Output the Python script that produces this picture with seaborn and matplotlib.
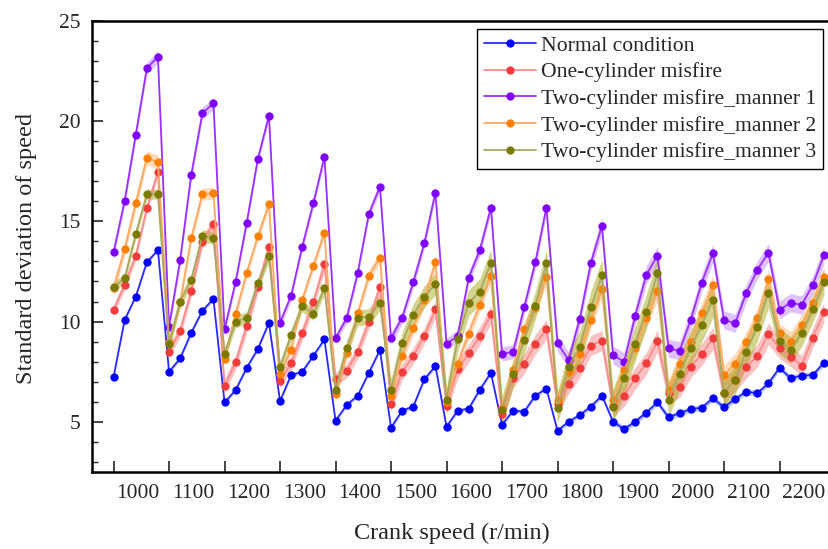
import numpy as np
import pandas as pd
import matplotlib
matplotlib.use("Agg")
import matplotlib.pyplot as plt
from matplotlib.ticker import MultipleLocator
import seaborn as sns

# crank speeds (one group of 5 samples per speed)
speeds = [1000, 1100, 1200, 1300, 1400, 1500, 1600, 1700, 1800, 1900, 2000, 2100, 2200]

normal = [7.22, 10.08, 11.24, 12.96, 13.57,
          7.49, 8.16, 9.44, 10.54, 11.13,
          5.96, 6.58, 7.69, 8.63, 9.94,
          6.03, 7.33, 7.49, 8.29, 9.11,
          5.05, 5.83, 6.3, 7.44, 8.58,
          4.7, 5.55, 5.75, 7.11, 7.78,
          4.75, 5.55, 5.65, 6.6, 7.44,
          4.85, 5.55, 5.5, 6.3, 6.65,
          4.55, 5.0, 5.33, 5.75, 6.3,
          5.0, 4.63, 5.0, 5.45, 5.97,
          5.22, 5.42, 5.62, 5.7, 6.17,
          5.72, 6.13, 6.5, 6.42, 6.92,
          7.69, 7.17, 7.3, 7.33, 7.94]

one_cyl = [10.58, 11.83, 13.29, 15.66, 17.48,
           8.5, 9.53, 11.54, 13.99, 14.86,
           6.78, 7.96, 9.79, 11.74, 13.74,
           7.05, 7.91, 9.41, 10.96, 12.86,
           7.11, 7.53, 8.49, 9.99, 11.74,
           5.9, 7.49, 8.28, 9.28, 10.61,
           5.8, 7.61, 8.41, 9.28, 10.36,
           5.4, 7.2, 7.9, 8.86, 9.61,
           5.9, 6.9, 7.7, 8.8, 9.05,
           5.8, 6.3, 7.17, 7.91, 9.03,
           6.45, 6.75, 7.75, 8.36, 9.16,
           6.42, 7.08, 7.71, 8.29, 9.38,
           8.66, 8.25, 7.8, 9.2, 10.46]

two_m1 = [13.46, 16.02, 19.32, 22.65, 23.23,
          9.75, 13.07, 17.32, 20.4, 20.9,
          9.61, 11.99, 14.94, 18.12, 20.28,
          9.94, 11.29, 13.74, 15.91, 18.23,
          9.16, 10.16, 12.44, 15.37, 16.74,
          9.16, 10.19, 11.96, 13.91, 16.44,
          8.88, 9.28, 12.19, 13.57, 15.69,
          8.38, 8.49, 10.71, 12.96, 15.69,
          8.91, 8.08, 10.13, 12.91, 14.79,
          8.33, 7.99, 10.29, 12.33, 13.29,
          8.66, 8.54, 10.08, 11.94, 13.41,
          10.08, 9.91, 11.41, 12.58, 13.44,
          10.58, 10.94, 10.83, 11.83, 13.32]

two_m2 = [11.66, 13.62, 15.91, 18.18, 17.95,
          9.0, 10.99, 14.16, 16.36, 16.41,
          8.15, 10.4, 12.44, 14.26, 15.86,
          7.4, 8.6, 11.08, 12.79, 14.44,
          6.38, 8.41, 10.41, 12.28, 13.19,
          6.3, 8.28, 9.66, 11.08, 12.99,
          6.0, 7.9, 9.4, 10.83, 12.28,
          5.7, 7.6, 9.61, 10.69, 12.24,
          6.1, 7.5, 8.4, 10.08, 11.6,
          6.1, 7.6, 8.7, 10.2, 11.5,
          6.6, 7.9, 9.0, 10.41, 11.83,
          7.33, 7.9, 8.99, 10.16, 12.1,
          9.41, 9.0, 9.83, 10.91, 12.21]

two_m3 = [11.71, 12.16, 14.37, 16.36, 16.36,
          8.86, 10.99, 12.08, 14.29, 14.16,
          8.4, 9.99, 10.19, 11.91, 13.27,
          7.71, 9.33, 10.79, 10.36, 11.66,
          6.58, 8.66, 10.19, 10.24, 10.94,
          6.6, 8.91, 10.33, 11.24, 11.88,
          6.1, 9.11, 10.94, 11.49, 12.94,
          5.6, 7.4, 9.1, 10.8, 12.9,
          5.7, 7.75, 8.74, 10.71, 12.3,
          5.75, 7.2, 8.9, 10.5, 12.4,
          6.08, 7.4, 8.7, 9.83, 11.08,
          6.42, 7.1, 8.5, 9.74, 11.44,
          9.04, 8.58, 9.41, 10.61, 11.96]

# half width of the shaded band, one value per speed group
band_normal = [0.08, 0.1, 0.1, 0.1, 0.1, 0.1, 0.1, 0.1, 0.12, 0.15, 0.15, 0.15, 0.15]
band_one = [0.25, 0.3, 0.35, 0.35, 0.35, 0.4, 0.45, 0.5, 0.5, 0.55, 0.55, 0.55, 0.5]
band_m1 = [0.3, 0.3, 0.25, 0.25, 0.25, 0.3, 0.3, 0.35, 0.4, 0.45, 0.45, 0.45, 0.45]
band_m2 = [0.35, 0.3, 0.25, 0.25, 0.3, 0.35, 0.35, 0.4, 0.45, 0.5, 0.5, 0.5, 0.5]
band_m3 = [0.25, 0.3, 0.3, 0.3, 0.4, 0.55, 0.65, 0.7, 0.8, 0.85, 0.85, 0.75, 0.65]

labels = ["Normal condition", "One-cylinder misfire", "Two-cylinder misfire_manner 1",
          "Two-cylinder misfire_manner 2", "Two-cylinder misfire_manner 3"]

# (values, band, line colour, marker colour, band colour, band alpha)
series = [
    (normal, band_normal, "#2a2aff", "#0000ff", "#4060ff", 0.35),
    (one_cyl, band_one, "#ff8a8a", "#f03c3c", "#f05050", 0.35),
    (two_m1, band_m1, "#9a30ff", "#8000ff", "#a050ff", 0.35),
    (two_m2, band_m2, "#ffa860", "#ff8000", "#ff9a40", 0.35),
    (two_m3, band_m3, "#a8a860", "#7a7a00", "#a0a000", 0.45),
]

sns.set_style("ticks")
plt.rcParams["font.family"] = ["Liberation Serif", "DejaVu Serif"]

fig = plt.figure(figsize=(8.29, 5.49), dpi=100)
ax = fig.add_axes([92 / 829, 1 - 471.7 / 549, 743 / 829, (471.7 - 21.2) / 549])

x = np.arange(len(normal))
for name, (vals, band, lc, mc, bc, ba) in zip(labels, series):
    vals = np.array(vals)
    w = np.repeat(band, 5)
    ax.fill_between(x, vals - w, vals + w, color=bc, alpha=ba, lw=0)
    df = pd.DataFrame({"idx": x, "val": vals})
    sns.lineplot(data=df, x="idx", y="val", ax=ax, color=lc, marker="o",
                 markersize=5.2, markerfacecolor=mc, markeredgecolor=mc,
                 linewidth=1.3, label=name)

ax.set_xlim(-1.94, 65.0)
ax.set_ylim(2.5, 25)
ax.set_xticks(np.arange(0, 65, 5))
ax.set_xticklabels([])
ax.set_xticks(np.arange(13) * 5 + 2.2, minor=True)
ax.set_xticklabels([str(s) for s in speeds], minor=True, fontsize=15.5)
ax.tick_params(axis="x", which="minor", length=0, pad=9)
ax.tick_params(axis="x", which="major", direction="in", length=8, width=1.2)
ax.set_yticks([5, 10, 15, 20, 25])
ax.yaxis.set_minor_locator(MultipleLocator(1))
ax.tick_params(axis="y", which="major", direction="in", length=8, width=1.2,
               labelsize=15.5, pad=8)
ax.tick_params(axis="y", which="minor", direction="in", length=4, width=1.0)
ax.set_xlabel("")
ax.set_ylabel("")
for sp in ax.spines.values():
    sp.set_linewidth(1.8)
    sp.set_color("black")

fig.text(452 / 829, 1 - 533 / 549, "Crank speed (r/min)", ha="center", va="center", fontsize=17.5)
fig.text(27 / 829, 1 - 248 / 549, "Standard deviation of speed", ha="center", va="center",
         rotation=90, fontsize=17.5)

leg = ax.legend(loc="upper right", bbox_to_anchor=(823 / 829, 1 - 29 / 549),
                bbox_transform=fig.transFigure, frameon=True, fancybox=False,
                edgecolor="black", framealpha=1, fontsize=15.6, handlelength=2.4,
                labelspacing=0.3, borderpad=0.3, handletextpad=0.25, borderaxespad=0)
leg.get_frame().set_linewidth(1.0)

fig.savefig("out.png", dpi=100)
